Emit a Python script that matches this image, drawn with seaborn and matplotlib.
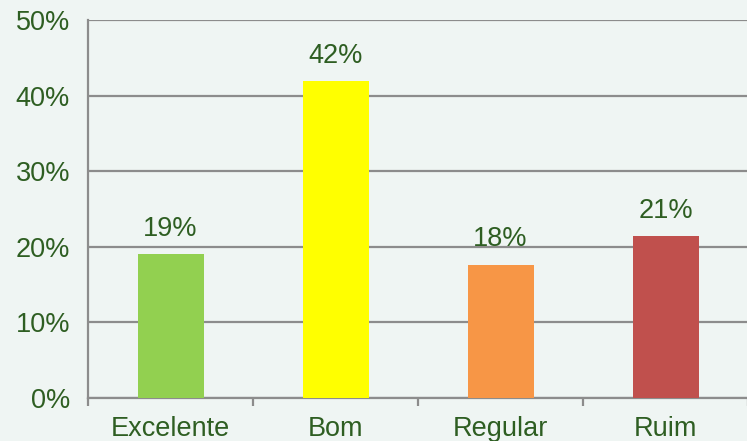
import matplotlib
matplotlib.use("Agg")
import matplotlib.pyplot as plt
import seaborn as sns
import pandas as pd

categories = ["Excelente", "Bom", "Regular", "Ruim"]
values = [19.0, 41.9, 17.6, 21.4]
labels = ["19%", "42%", "18%", "21%"]
colors = ["#92d050", "#ffff00", "#f79646", "#c0504d"]
yticks = [0, 10, 20, 30, 40, 50]
ytick_labels = ["0%", "10%", "20%", "30%", "40%", "50%"]

sns.set_theme(style="white")
plt.rcParams['font.family'] = ['Liberation Sans', 'DejaVu Sans']

txt = "#2e5e22"
grid = "#8c8c8c"
bg = "#eff5f3"
fs = 19.5

fig = plt.figure(figsize=(7.47, 4.41), dpi=100)
fig.patch.set_facecolor(bg)
ax = fig.add_axes([88/747, 43/441, 660/747, 378/441])
ax.set_facecolor(bg)

df = pd.DataFrame({"cat": categories, "val": values})
sns.barplot(data=df, x="cat", y="val", hue="cat", palette=colors, width=0.4,
            legend=False, ax=ax, saturation=1, linewidth=0, edgecolor="none", zorder=3)

ax.set_xlim(-0.5, 3.5)
ax.set_ylim(0, 50)
ax.set_yticks(yticks)
ax.set_yticklabels(ytick_labels)
ax.set_xlabel("")
ax.set_ylabel("")
ax.yaxis.grid(True, color=grid, linewidth=1.6, zorder=0)
ax.set_axisbelow(True)

ax.set_xticks([0, 1, 2, 3])
ax.set_xticklabels(categories)
ax.set_xticks([-0.5, 0.5, 1.5, 2.5, 3.5], minor=True)
ax.tick_params(axis="x", which="major", length=0, pad=13, labelsize=fs, labelcolor=txt)
ax.tick_params(axis="x", which="minor", length=6, width=1.6, color=grid, direction="out", bottom=True)
ax.tick_params(axis="y", length=7, width=1.6, color=grid, direction="out", pad=6,
               labelsize=fs, labelcolor=txt)

for s in ["top", "right"]:
    ax.spines[s].set_visible(False)
for s in ["left", "bottom"]:
    ax.spines[s].set_color(grid)
    ax.spines[s].set_linewidth(1.6)

for i, v in enumerate(values):
    ax.annotate(labels[i], xy=(i, v), xytext=(0, 9), textcoords="offset points",
                ha="center", va="bottom", fontsize=fs, color=txt)

fig.savefig("out.png", dpi=100, facecolor=bg)
